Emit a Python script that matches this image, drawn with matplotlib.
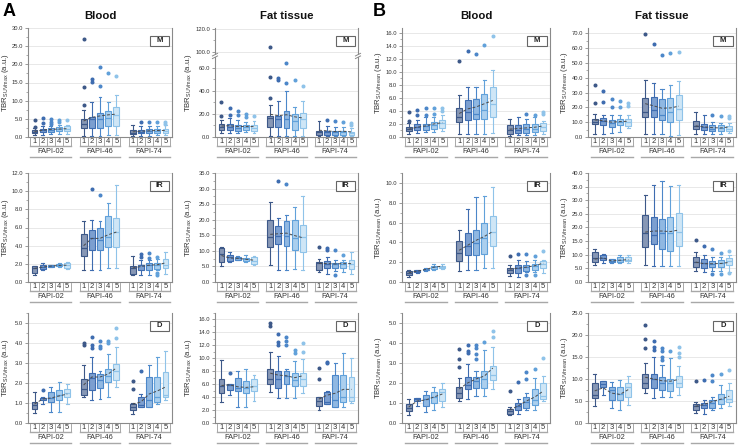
import matplotlib
matplotlib.use('Agg')
import matplotlib.pyplot as plt
import numpy as np
from matplotlib.patches import Rectangle
from matplotlib.transforms import blended_transform_factory

plt.rcParams['font.family'] = ['Liberation Sans', 'DejaVu Sans']

groups = ['FAPI-02', 'FAPI-46', 'FAPI-74']
timepoints = ['1', '2', '3', '4', '5']

# rows: [whisker_low, q1, median, q3, whisker_high, mean]; 5 timepoints x 3 groups
A_BLOOD_M = [
    [0.5, 1.0, 1.4, 1.8, 2.4, 1.5], [0.6, 1.4, 1.8, 2.3, 2.9, 1.9], [0.7, 1.5, 2.0, 2.6, 3.0, 2.1],
    [0.8, 1.6, 2.2, 2.7, 3.2, 2.2], [0.9, 1.7, 2.3, 3.0, 3.4, 2.3],
    [0.3, 2.4, 3.6, 4.9, 7.5, 4.4], [0.4, 2.4, 4.9, 5.6, 9.7, 5.4], [0.4, 2.6, 4.9, 6.7, 11.1, 5.8],
    [0.5, 2.9, 5.2, 7.2, 9.5, 6.1], [0.5, 2.9, 6.1, 8.2, 11.6, 6.3],
    [0.3, 0.7, 1.2, 2.0, 3.2, 1.4], [0.4, 1.0, 1.5, 2.0, 3.0, 1.6], [0.4, 1.1, 1.6, 2.1, 3.0, 1.7],
    [0.5, 1.2, 1.7, 2.2, 3.0, 1.8], [0.5, 1.2, 1.7, 2.3, 3.2, 1.8]]
A_BLOOD_M_OUT = [[2.8, 4.8], [3.8, 5.2], [3.6, 4.0, 5.0], [4.0, 4.8], [4.8],
                 [8.7, 13.7, 27.0], [15.2, 16.0], [14.1, 19.4], [17.7], [16.8],
                 [], [4.0], [4.2], [4.2], [3.6, 4.2]]

A_FAT_M = [
    [3.5, 6.5, 8.5, 10.9, 14.4, 9.5], [3.5, 6.5, 8.8, 11.5, 16.2, 9.8], [3.8, 5.6, 7.9, 10.3, 15.0, 9.0],
    [4.0, 6.5, 8.5, 10.3, 13.2, 9.2], [3.5, 5.3, 7.9, 10.3, 13.8, 9.0],
    [1.0, 8.5, 16.8, 18.2, 28.0, 19.7], [1.0, 8.5, 15.3, 18.2, 30.9, 18.5], [1.0, 7.9, 15.3, 22.6, 40.3, 19.3],
    [1.0, 6.5, 13.8, 19.7, 26.0, 17.5], [1.0, 7.4, 15.3, 21.2, 30.9, 16.5],
    [0.6, 2.0, 4.1, 5.6, 13.8, 5.9], [0.6, 2.0, 4.4, 5.6, 9.4, 5.3], [0.6, 2.0, 4.1, 5.0, 8.5, 4.7],
    [0.6, 2.0, 4.1, 5.0, 8.5, 5.0], [0.6, 1.5, 3.2, 4.4, 7.9, 4.4]]
A_FAT_M_OUT = [[18.0, 30.5], [19.0, 25.0], [19.0, 22.6], [17.0, 20.0], [18.5],
               [33.6, 52.4, 104.0], [49.0, 51.0], [47.0, 64.0], [49.0], [44.0],
               [], [14.4], [13.5], [13.0], [10.0, 12.0]]

B_BLOOD_M = [
    [0.5, 0.93, 1.19, 1.55, 2.1, 1.2], [0.6, 1.03, 1.55, 1.96, 2.6, 1.5], [0.7, 1.14, 1.7, 1.96, 3.0, 1.7],
    [0.8, 1.3, 1.9, 2.3, 3.1, 2.0], [0.9, 1.4, 2.1, 2.6, 3.4, 2.2],
    [0.4, 2.3, 3.0, 4.4, 6.45, 3.6], [0.4, 2.6, 3.9, 5.7, 7.6, 4.3], [0.4, 2.8, 3.5, 5.8, 7.6, 4.6],
    [0.4, 2.8, 4.1, 6.6, 8.8, 5.1], [0.6, 3.1, 5.1, 7.6, 10.2, 5.6],
    [0.2, 0.4, 1.0, 1.8, 2.8, 1.2], [0.3, 0.6, 1.1, 1.8, 3.0, 1.3], [0.3, 0.6, 1.3, 2.0, 2.8, 1.4],
    [0.3, 0.8, 1.3, 2.0, 3.0, 1.5], [0.5, 0.9, 1.5, 2.2, 2.5, 1.7]]
B_BLOOD_M_OUT = [[2.5, 3.8], [3.3, 4.2], [3.4, 4.4], [3.6, 4.5], [4.0, 4.5],
                 [11.6], [13.1], [12.7], [14.1], [15.5],
                 [], [], [3.5], [3.4], [3.5, 3.8]]

B_FAT_M = [
    [2.3, 8.6, 10.2, 12.4, 15.8, 11.5], [2.3, 7.9, 10.8, 13.1, 14.7, 11.0], [2.9, 6.8, 9.5, 11.3, 14.7, 10.0],
    [3.5, 7.9, 10.2, 12.4, 15.0, 10.4], [6.0, 7.2, 10.2, 12.4, 15.0, 10.6],
    [2.3, 13.5, 16.9, 26.6, 38.4, 22.5], [1.8, 13.5, 18.0, 27.1, 36.6, 21.0], [1.8, 11.7, 14.7, 25.3, 32.7, 19.4],
    [1.0, 10.2, 16.9, 26.4, 35.0, 19.6], [1.5, 11.3, 19.0, 28.2, 37.9, 20.8],
    [2.3, 5.6, 7.2, 10.6, 16.9, 7.5], [2.0, 4.5, 6.8, 8.6, 14.7, 6.8], [2.0, 4.1, 5.6, 7.9, 10.2, 6.3],
    [2.0, 4.1, 6.3, 7.9, 9.5, 6.1], [3.0, 4.1, 5.6, 7.2, 9.5, 6.8]]
B_FAT_M_OUT = [[22.6, 35.2], [23.7, 31.0], [20.0, 25.5], [20.3, 24.0], [21.0, 23.0],
               [69.5], [62.5], [55.4], [56.4], [57.3],
               [], [], [15.0], [14.0], [13.0, 14.3]]

A_BLOOD_IR = [
    [0.8, 1.0, 1.55, 1.8, 1.8, 1.5], [1.3, 1.43, 1.65, 1.9, 2.1, 1.65], [1.65, 1.65, 1.76, 1.83, 1.9, 1.75],
    [1.65, 1.72, 1.83, 1.98, 2.1, 1.83], [1.47, 1.54, 1.83, 2.1, 2.15, 1.85],
    [1.35, 2.9, 3.7, 5.3, 6.75, 4.0], [1.28, 3.56, 4.84, 5.76, 6.8, 4.8], [1.3, 3.56, 4.6, 5.9, 6.7, 4.8],
    [1.54, 3.85, 4.95, 7.3, 8.7, 5.2], [1.54, 3.85, 5.47, 7.05, 10.7, 5.5],
    [0.8, 0.9, 1.55, 1.72, 2.83, 1.55], [0.73, 1.36, 1.83, 1.9, 2.45, 1.7], [0.73, 1.36, 1.83, 2.1, 2.45, 1.85],
    [1.36, 1.47, 1.83, 2.1, 2.5, 1.9], [0.92, 1.54, 1.9, 2.53, 3.3, 2.1]]
A_BLOOD_IR_OUT = [[], [], [], [], [],
                  [], [10.2], [9.6], [], [],
                  [], [2.8, 3.05], [2.6, 3.2], [0.8, 1.0, 2.75], []]

A_FAT_IR = [
    [5.1, 6.5, 8.9, 10.8, 11.1, 8.5], [6.5, 6.8, 7.9, 8.6, 9.7, 7.7], [7.0, 7.2, 7.6, 8.1, 8.3, 7.6],
    [6.5, 6.8, 7.3, 7.6, 8.6, 7.3], [5.4, 5.9, 6.8, 8.1, 8.3, 7.0],
    [5.4, 11.3, 14.5, 19.9, 25.8, 15.3], [3.8, 12.2, 14.7, 18.0, 20.5, 15.5], [3.8, 11.5, 14.7, 19.6, 21.5, 15.7],
    [4.3, 10.4, 14.0, 19.9, 24.2, 14.9], [3.8, 9.7, 14.3, 18.3, 27.7, 14.2],
    [3.2, 3.8, 6.2, 6.5, 7.5, 6.0], [2.7, 4.6, 5.9, 6.7, 8.1, 5.9], [3.5, 4.6, 5.7, 6.2, 7.2, 5.8],
    [3.2, 4.6, 5.9, 6.5, 7.2, 5.9], [2.7, 4.3, 5.7, 7.0, 9.7, 5.9]]
A_FAT_IR_OUT = [[], [], [], [], [],
                [], [32.3], [31.4], [], [],
                [11.3], [10.3, 10.8], [2.3, 10.2], [8.8], []]

B_BLOOD_IR = [
    [0.53, 0.66, 0.86, 1.1, 1.26, 0.93], [0.93, 1.0, 1.1, 1.2, 1.26, 1.1], [1.13, 1.2, 1.26, 1.36, 1.43, 1.26],
    [1.26, 1.36, 1.53, 1.66, 1.86, 1.5], [1.33, 1.4, 1.53, 1.66, 1.86, 1.6],
    [1.1, 2.1, 2.9, 4.1, 5.25, 3.2], [1.26, 2.76, 3.6, 4.9, 7.4, 3.7], [1.26, 2.76, 3.9, 5.25, 8.57, 4.2],
    [1.4, 2.86, 4.4, 6.0, 8.7, 4.6], [1.4, 3.6, 5.0, 6.7, 9.6, 5.1],
    [0.6, 0.86, 1.2, 1.43, 1.7, 1.3], [0.53, 0.93, 1.43, 1.76, 2.26, 1.4], [1.0, 1.1, 1.53, 1.76, 2.1, 1.5],
    [1.0, 1.2, 1.66, 1.83, 2.2, 1.65], [0.93, 1.43, 1.86, 2.1, 2.26, 1.9]]
B_BLOOD_IR_OUT = [[], [], [], [], [],
                  [], [], [], [], [],
                  [2.6], [2.8], [0.7, 2.8], [0.7, 2.6], [3.1]]

B_FAT_IR = [
    [6.1, 7.3, 8.9, 11.0, 12.0, 8.4], [7.0, 8.2, 8.9, 9.8, 10.2, 8.9], [7.0, 7.3, 7.7, 8.3, 8.5, 7.7],
    [7.0, 7.3, 8.0, 9.2, 10.0, 8.0], [7.1, 7.6, 8.2, 9.2, 10.0, 8.2],
    [6.4, 12.8, 18.0, 24.5, 31.8, 18.3], [5.7, 14.1, 17.1, 23.9, 35.7, 18.7], [5.7, 12.2, 18.0, 23.2, 37.1, 18.7],
    [5.7, 11.4, 18.0, 23.9, 35.1, 18.5], [5.7, 13.2, 18.3, 25.3, 35.7, 19.1],
    [4.0, 5.5, 7.3, 9.2, 11.0, 7.3], [3.7, 5.3, 7.0, 8.3, 10.0, 6.7], [4.0, 5.5, 6.7, 7.7, 9.2, 6.7],
    [4.0, 5.5, 7.1, 8.0, 9.0, 6.8], [3.7, 6.1, 7.7, 8.9, 10.0, 7.2]]
B_FAT_IR_OUT = [[], [], [], [], [],
                [], [], [], [], [],
                [15.3], [13.3], [3.0, 12.0], [3.0, 10.8], [3.4, 11.5]]

A_BLOOD_D = [
    [0.5, 0.72, 0.88, 1.05, 1.55, 0.95], [0.93, 1.13, 1.25, 1.27, 1.3, 1.2], [0.55, 1.05, 1.25, 1.55, 1.8, 1.25],
    [0.55, 1.13, 1.38, 1.63, 2.05, 1.35], [0.93, 1.3, 1.5, 1.72, 1.97, 1.45],
    [1.3, 1.38, 1.72, 2.22, 2.88, 1.9], [1.13, 1.63, 2.27, 2.5, 3.3, 2.3], [1.22, 1.77, 2.17, 2.47, 2.6, 2.3],
    [1.3, 2.05, 2.33, 2.72, 3.47, 2.45], [1.8, 2.13, 2.6, 2.97, 3.8, 2.75],
    [0.47, 0.67, 0.8, 0.97, 1.0, 0.95], [0.8, 0.8, 0.92, 1.3, 1.47, 1.05], [0.8, 0.8, 1.13, 2.3, 2.88, 1.45],
    [0.97, 1.05, 1.3, 2.3, 3.3, 1.6], [1.13, 1.3, 1.38, 2.55, 3.58, 1.8]]
A_BLOOD_D_OUT = [[], [1.65], [], [], [],
                 [3.9, 4.0], [3.75, 3.9, 4.3], [3.75, 3.85, 4.1], [4.0, 4.1], [4.25, 4.75],
                 [1.7, 2.1], [2.6], [], [], []]

A_FAT_D = [
    [3.3, 4.7, 5.7, 6.8, 9.8, 5.8], [4.3, 5.1, 5.9, 6.0, 6.1, 5.9], [2.5, 5.0, 5.35, 6.9, 8.1, 5.6],
    [2.4, 4.6, 5.45, 6.5, 8.3, 5.5], [3.4, 4.9, 5.7, 6.75, 7.4, 5.6],
    [4.8, 6.1, 6.75, 8.3, 10.9, 7.7], [3.8, 5.35, 6.75, 8.05, 10.4, 7.4], [3.9, 6.0, 7.27, 8.1, 8.3, 7.3],
    [3.8, 5.7, 6.65, 7.7, 9.6, 7.0], [4.7, 5.7, 6.75, 7.8, 9.9, 7.3],
    [2.0, 2.6, 3.4, 3.95, 4.0, 3.7], [2.9, 3.0, 3.3, 4.85, 5.0, 4.3], [2.4, 2.5, 3.5, 7.4, 9.25, 4.6],
    [2.5, 3.3, 3.95, 7.4, 10.8, 5.2], [3.1, 3.4, 3.95, 7.1, 10.0, 5.2]]
A_FAT_D_OUT = [[], [7.8], [], [], [],
               [15.0, 15.4], [12.0, 12.5, 13.7], [12.0, 12.6, 13.3], [10.8, 11.3], [11.0, 12.4],
               [6.8, 8.5], [9.3, 9.4], [], [], []]

B_BLOOD_D = [
    [0.38, 0.62, 0.73, 0.95, 1.2, 0.8], [0.87, 1.11, 1.18, 1.23, 1.25, 1.1], [0.54, 0.87, 1.2, 1.4, 1.6, 1.15],
    [0.65, 1.0, 1.32, 1.55, 1.8, 1.3], [0.78, 1.11, 1.57, 1.72, 2.0, 1.45],
    [1.11, 1.27, 1.52, 1.81, 2.25, 1.7], [1.19, 1.68, 1.9, 2.3, 2.94, 2.0], [1.36, 1.76, 2.09, 2.3, 2.58, 2.2],
    [1.36, 1.76, 2.2, 2.58, 3.64, 2.35], [1.72, 2.14, 2.42, 2.83, 3.8, 2.75],
    [0.38, 0.46, 0.59, 0.7, 0.8, 0.65], [0.46, 0.65, 0.83, 1.0, 1.2, 0.85], [0.67, 0.74, 1.03, 1.32, 1.5, 1.1],
    [0.65, 0.9, 1.14, 1.68, 2.25, 1.3], [1.11, 1.19, 1.36, 2.0, 2.34, 1.6]]
B_BLOOD_D_OUT = [[], [], [], [], [],
                 [2.8, 3.2, 3.7], [3.5, 3.6, 3.9], [3.2, 3.45, 3.75, 3.9], [4.05], [4.3, 4.6],
                 [1.6], [2.05], [2.2, 2.55], [2.7], [3.25]]

B_FAT_D = [
    [3.8, 5.7, 6.3, 9.15, 11.1, 7.3], [6.3, 8.1, 8.8, 9.5, 9.5, 8.0], [3.3, 5.2, 7.6, 8.2, 9.4, 6.8],
    [3.0, 5.3, 6.5, 8.1, 9.75, 6.5], [4.0, 5.8, 8.1, 9.0, 10.7, 7.6],
    [6.9, 7.85, 9.0, 11.1, 13.7, 10.4], [5.6, 7.85, 10.1, 11.1, 15.1, 10.0], [5.8, 7.6, 9.1, 10.4, 13.2, 9.6],
    [5.8, 7.3, 9.0, 10.1, 14.7, 9.5], [6.3, 8.1, 9.1, 10.7, 13.0, 9.9],
    [2.3, 3.05, 3.8, 4.4, 4.8, 3.8], [2.1, 3.3, 4.0, 4.65, 5.2, 4.2], [2.9, 3.3, 4.6, 5.3, 5.9, 4.9],
    [3.4, 4.4, 5.5, 6.7, 8.6, 5.4], [3.8, 4.8, 5.4, 7.6, 9.1, 6.1]]
B_FAT_D_OUT = [[], [], [], [], [],
               [17.0, 19.2, 22.3], [16.6, 17.2, 18.6], [14.3, 15.0, 16.3, 17.0], [16.3], [14.9, 16.0, 17.2],
               [9.6], [9.8], [9.5, 11.0], [11.2], [12.0]]

EDGE = ['#3d5888', '#3e6cb0', '#4c87c9', '#61a1da', '#8fc3e9']
FACE = ['#8797b5', '#7c9fd0', '#90b8e2', '#abcfee', '#cfe6f6']

FIG_W, FIG_H = 740, 445
COLS = [(28, 172), (215, 358), (402, 550), (588, 736)]
ROWS = [(28, 137), (173, 282), (313, 423)]
YLABEL_X = [11, 194, 384, 570.5]

# (row, col, data, outliers, ymax, step, metric, label, broken)
PANELS = [
    (0, 0, A_BLOOD_M, A_BLOOD_M_OUT, 30, 5, 'SUVmax', 'M', False),
    (0, 1, A_FAT_M, A_FAT_M_OUT, 120.5, 20, 'SUVmax', 'M', True),
    (0, 2, B_BLOOD_M, B_BLOOD_M_OUT, 16.7, 2, 'SUVmean', 'M', False),
    (0, 3, B_FAT_M, B_FAT_M_OUT, 73.5, 10, 'SUVmean', 'M', False),
    (1, 0, A_BLOOD_IR, A_BLOOD_IR_OUT, 12, 2, 'SUVmax', 'IR', False),
    (1, 1, A_FAT_IR, A_FAT_IR_OUT, 35, 5, 'SUVmax', 'IR', False),
    (1, 2, B_BLOOD_IR, B_BLOOD_IR_OUT, 11, 2, 'SUVmean', 'IR', False),
    (1, 3, B_FAT_IR, B_FAT_IR_OUT, 40, 5, 'SUVmean', 'IR', False),
    (2, 0, A_BLOOD_D, A_BLOOD_D_OUT, 5.5, 1, 'SUVmax', 'D', False),
    (2, 1, A_FAT_D, A_FAT_D_OUT, 17, 2, 'SUVmax', 'D', False),
    (2, 2, B_BLOOD_D, B_BLOOD_D_OUT, 5.5, 1, 'SUVmean', 'D', False),
    (2, 3, B_FAT_D, B_FAT_D_OUT, 25, 5, 'SUVmean', 'D', False),
]

positions = [g * 6 + k + 1 for g in range(3) for k in range(5)]


def fwd(y):
    y = np.asarray(y, dtype=float)
    return np.where(y <= 70, y, np.where(y >= 100, y - 26, 70 + (y - 70) * 4.0 / 30.0))


def inv(u):
    u = np.asarray(u, dtype=float)
    return np.where(u <= 70, u, np.where(u >= 74, u + 26, 70 + (u - 70) * 30.0 / 4.0))


fig = plt.figure(figsize=(FIG_W / 100, FIG_H / 100), dpi=100)

GRID = '#e4e4e4'
SPINE = '#8a8a8a'
TXT = '#333333'

for (r, c, data, outs, ymax, step, metric, lab, broken) in PANELS:
    x0, x1 = COLS[c]
    y0, y1 = ROWS[r]
    ax = fig.add_axes([x0 / FIG_W, 1 - y1 / FIG_H, (x1 - x0) / FIG_W, (y1 - y0) / FIG_H])
    if broken:
        ax.set_yscale('function', functions=(fwd, inv))
    stats = []
    for row, fl in zip(data, outs):
        stats.append(dict(whislo=row[0], q1=row[1], med=row[2], q3=row[3], whishi=row[4],
                          mean=row[5], fliers=fl))
    bp = ax.bxp(stats, positions=positions, widths=0.72, patch_artist=True,
                showmeans=False, showfliers=True, manage_ticks=False)
    for i, box in enumerate(bp['boxes']):
        k = i % 5
        box.set_facecolor(FACE[k])
        box.set_edgecolor(EDGE[k])
        box.set_linewidth(0.8)
        box.set_zorder(3)
        bp['medians'][i].set_color(EDGE[k])
        bp['medians'][i].set_linewidth(0.9)
        bp['medians'][i].set_zorder(4)
        for w in bp['whiskers'][2 * i:2 * i + 2]:
            w.set_color(EDGE[k]); w.set_linewidth(0.8)
        for cp in bp['caps'][2 * i:2 * i + 2]:
            cp.set_color(EDGE[k]); cp.set_linewidth(0.8)
        f = bp['fliers'][i]
        f.set_marker('o'); f.set_markersize(1.9)
        f.set_markerfacecolor(EDGE[k]); f.set_markeredgecolor(EDGE[k])
    for g in range(3):
        xs = positions[g * 5:(g + 1) * 5]
        ms = [data[g * 5 + k][5] for k in range(5)]
        ax.plot(xs, ms, ls=(0, (3, 2)), color='#4a4a4a', lw=0.7, zorder=6)

    ax.set_xlim(0.2, 17.8)
    ax.set_ylim(0, ymax)
    if broken:
        ax.set_yticks([0, 20, 40, 60, 100, 120])
        ax.set_yticks([10, 30, 50, 110], minor=True)
    else:
        ax.set_yticks(np.arange(0, ymax + 1e-6, step))
        ax.set_yticks(np.arange(step / 2, ymax + 1e-6, step), minor=True)
    ax.yaxis.set_major_formatter(matplotlib.ticker.FormatStrFormatter('%.1f'))
    ax.tick_params(axis='y', which='major', length=2.5, width=0.6, color=SPINE,
                   labelsize=4.2, labelcolor=TXT, pad=1.0)
    ax.tick_params(axis='y', which='minor', length=1.5, width=0.5, color=SPINE)
    ax.set_xticks([])
    ax.grid(axis='y', which='major', color=GRID, lw=0.6, zorder=0)
    ax.set_axisbelow(True)
    for s in ['left', 'right', 'bottom']:
        ax.spines[s].set_color(SPINE)
        ax.spines[s].set_linewidth(0.8)
    ax.spines['top'].set_visible(False)
    ax.set_ylabel(r'TBR$_{\mathregular{%s}}$ (a.u.)' % metric, fontsize=5.6, color=TXT)
    ax.yaxis.set_label_coords((YLABEL_X[c] - x0) / (x1 - x0), 0.5)

    if broken:
        yb = float(fwd(72.0)) / float(fwd(ymax))
        for xa in (0.0, 1.0):
            ax.add_patch(Rectangle((xa - 0.02, yb - 0.012), 0.04, 0.024, transform=ax.transAxes,
                                   facecolor='white', edgecolor='none', clip_on=False, zorder=10))
            for dy in (-0.012, 0.012):
                ax.plot([xa - 0.018, xa + 0.018], [yb + dy - 0.012, yb + dy + 0.012],
                        transform=ax.transAxes, color=SPINE, lw=0.7, clip_on=False, zorder=11)

    # label box
    ax.add_patch(Rectangle((0.845, 0.835), 0.135, 0.095, transform=ax.transAxes,
                           facecolor='white', edgecolor='#666666', lw=0.8, zorder=8))
    ax.text(0.9125, 0.882, lab, transform=ax.transAxes, ha='center', va='center',
            fontsize=5.5, fontweight='bold', color='#222222', zorder=9)

    # custom category axis
    tr = blended_transform_factory(ax.transData, ax.transAxes)
    for g in range(3):
        xs = positions[g * 5:(g + 1) * 5]
        for k, xv in enumerate(xs):
            ax.text(xv, -0.045, timepoints[k], transform=tr, ha='center', va='center',
                    fontsize=5.5, color=TXT, clip_on=False)
        for xv in [xs[0] - 0.5] + [x + 0.5 for x in xs]:
            ax.plot([xv, xv], [-0.005, -0.085], transform=tr, color='#9a9a9a', lw=0.6, clip_on=False)
        ax.plot([xs[0] - 0.5, xs[-1] + 0.5], [-0.085, -0.085], transform=tr,
                color='#a8a8a8', lw=1.0, clip_on=False)
        ax.text((xs[0] + xs[-1]) / 2, -0.135, groups[g], transform=tr, ha='center', va='center',
                fontsize=5.3, color=TXT, clip_on=False)
        ax.plot([xs[0] - 0.5, xs[-1] + 0.5], [-0.18, -0.18], transform=tr,
                color='#a8a8a8', lw=1.0, clip_on=False)

# titles and panel letters
for c, title in enumerate(['Blood', 'Fat tissue', 'Blood', 'Fat tissue']):
    x0, x1 = COLS[c]
    fig.text((x0 + x1) / 2 / FIG_W, 1 - 16 / FIG_H, title, ha='center', va='center',
             fontsize=8.2, fontweight='bold', color='#111111')
fig.text(3 / FIG_W, 1 - 12 / FIG_H, 'A', ha='left', va='center', fontsize=13, fontweight='bold')
fig.text(373 / FIG_W, 1 - 12 / FIG_H, 'B', ha='left', va='center', fontsize=13, fontweight='bold')

fig.savefig('out.png', dpi=100)
